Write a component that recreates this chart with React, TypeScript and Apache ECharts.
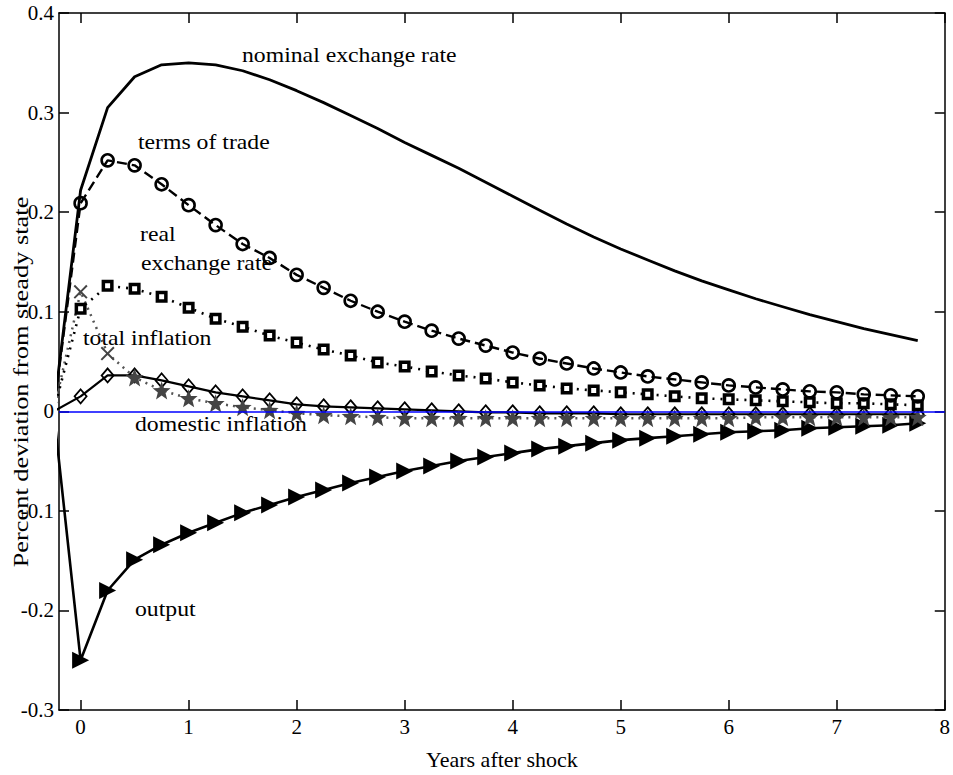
import React, { useEffect, useRef } from 'react';
import * as echarts from 'echarts';

const years = [-0.25, 0, 0.25, 0.5, 0.75, 1, 1.25, 1.5, 1.75, 2, 2.25, 2.5, 2.75, 3, 3.25, 3.5, 3.75, 4, 4.25, 4.5, 4.75, 5, 5.25, 5.5, 5.75, 6, 6.25, 6.5, 6.75, 7, 7.25, 7.5, 7.75];

const nominalExchangeRate = [0, 0.222, 0.305, 0.336, 0.348, 0.350, 0.348, 0.342, 0.333, 0.322, 0.310, 0.297, 0.284, 0.270, 0.257, 0.244, 0.230, 0.216, 0.202, 0.188, 0.175, 0.163, 0.152, 0.141, 0.131, 0.122, 0.113, 0.105, 0.097, 0.090, 0.083, 0.077, 0.071];
const termsOfTrade = [0, 0.209, 0.252, 0.247, 0.228, 0.207, 0.187, 0.168, 0.154, 0.137, 0.124, 0.111, 0.100, 0.090, 0.081, 0.073, 0.066, 0.059, 0.053, 0.048, 0.043, 0.039, 0.035, 0.032, 0.029, 0.026, 0.024, 0.022, 0.020, 0.019, 0.017, 0.016, 0.015];
const realExchangeRate = [0, 0.103, 0.126, 0.123, 0.115, 0.104, 0.093, 0.085, 0.076, 0.069, 0.062, 0.056, 0.049, 0.045, 0.040, 0.036, 0.033, 0.029, 0.026, 0.023, 0.021, 0.019, 0.017, 0.015, 0.013, 0.012, 0.011, 0.010, 0.009, 0.008, 0.008, 0.007, 0.006];
const totalInflation = [0, 0.120, 0.058, 0.034, 0.021, 0.013, 0.008, 0.004, 0.001, -0.002, -0.004, -0.005, -0.006, -0.007, -0.007, -0.007, -0.007, -0.007, -0.007, -0.007, -0.007, -0.007, -0.007, -0.007, -0.007, -0.007, -0.006, -0.006, -0.006, -0.006, -0.006, -0.006, -0.006];
const domesticInflation = [0, 0.015, 0.036, 0.036, 0.031, 0.025, 0.019, 0.015, 0.011, 0.007, 0.005, 0.004, 0.003, 0.002, 0.001, 0.000, -0.001, -0.001, -0.002, -0.002, -0.002, -0.003, -0.003, -0.003, -0.003, -0.003, -0.003, -0.003, -0.003, -0.003, -0.003, -0.003, -0.003];
const output = [0, -0.250, -0.180, -0.149, -0.134, -0.122, -0.112, -0.102, -0.094, -0.086, -0.079, -0.072, -0.066, -0.060, -0.055, -0.050, -0.046, -0.042, -0.038, -0.035, -0.032, -0.029, -0.027, -0.025, -0.023, -0.021, -0.020, -0.019, -0.017, -0.016, -0.015, -0.014, -0.012];

const xTicks = [0, 1, 2, 3, 4, 5, 6, 7, 8];
const yTicks = [-0.3, -0.2, -0.1, 0, 0.1, 0.2, 0.3, 0.4];

const FONT = '"Liberation Serif", "Times New Roman", serif';
const X_MARK = 'path://M0,10 L10,0 L50,40 L90,0 L100,10 L60,50 L100,90 L90,100 L50,60 L10,100 L0,90 L40,50 Z';
const STAR = 'path://M50,0 L63,35 L100,36 L71,59 L81,96 L50,75 L19,96 L29,59 L0,36 L37,35 Z';

function pts(vals: number[]) {
  return years.map((t, i) => (i === 0 ? { value: [t, vals[i]], symbol: 'none' } : { value: [t, vals[i]] }));
}

export default function App() {
  const ref = useRef<HTMLDivElement>(null);
  useEffect(() => {
    document.body.style.margin = '0';
    if (!ref.current) return;
    const chart = echarts.init(ref.current, null, { renderer: 'svg' });
    const axisLine = { show: true, onZero: false, lineStyle: { color: '#000', width: 1.5 } };
    const tickStyle = { color: '#000', width: 1.5 };
    const label = (s: string, x: number, y: number) => ({
      type: 'text', x, y, scaleX: 1.13, z: 100,
      style: { text: s, fontSize: 21, fontFamily: FONT, fill: '#000', align: 'left', verticalAlign: 'middle' },
    });
    const tiData = years.map((t, i) => ({
      value: [t, totalInflation[i]],
      symbol: i === 0 ? 'none' : i <= 2 ? X_MARK : STAR,
      symbolSize: i <= 2 ? 14 : 18,
    }));
    const option: any = {
      animation: false,
      backgroundColor: '#fff',
      grid: { left: 59, right: 7, top: 13, bottom: 62, containLabel: false },
      xAxis: [
        {
          type: 'value', min: -0.2, max: 8, position: 'bottom',
          axisLine,
          axisTick: { show: true, inside: true, length: 10, customValues: xTicks, lineStyle: tickStyle },
          axisLabel: { show: true, customValues: xTicks, fontFamily: FONT, fontSize: 21, color: '#000', margin: 6 },
          splitLine: { show: false },
          name: 'Years after shock', nameLocation: 'middle', nameGap: 38,
          nameTextStyle: { fontFamily: FONT, fontSize: 22, color: '#000' },
        },
        {
          type: 'value', min: -0.2, max: 8, position: 'top',
          axisLine,
          axisTick: { show: true, inside: true, length: 10, customValues: xTicks, lineStyle: tickStyle },
          axisLabel: { show: false },
          splitLine: { show: false },
        },
      ],
      yAxis: [
        {
          type: 'value', min: -0.3, max: 0.4, position: 'left',
          axisLine,
          axisTick: { show: true, inside: true, length: 10, customValues: yTicks, lineStyle: tickStyle },
          axisLabel: {
            show: true, customValues: yTicks, fontFamily: FONT, fontSize: 21, color: '#000', margin: 5,
            formatter: (v: number) => (Math.abs(v) < 1e-9 ? '0' : String(Math.round(v * 10) / 10)),
          },
          splitLine: { show: false },
        },
        {
          type: 'value', min: -0.3, max: 0.4, position: 'right',
          axisLine,
          axisTick: { show: true, inside: true, length: 10, customValues: yTicks, lineStyle: tickStyle },
          axisLabel: { show: false },
          splitLine: { show: false },
        },
      ],
      series: [
        {
          name: 'output', type: 'line', data: pts(output), showAllSymbol: true,
          symbol: 'triangle', symbolSize: 17, symbolRotate: -90,
          lineStyle: { color: '#000', width: 2.6 },
          itemStyle: { color: '#000' },
          emphasis: { disabled: true }, z: 2,
        },
        {
          name: 'domestic inflation', type: 'line', data: pts(domesticInflation), showAllSymbol: true,
          symbol: 'diamond', symbolSize: [12, 14],
          lineStyle: { color: '#000', width: 2.2 },
          itemStyle: { color: 'rgba(255,255,255,0)', borderColor: '#000', borderWidth: 1.8 },
          emphasis: { disabled: true }, z: 3,
          markLine: {
            silent: true, symbol: 'none', label: { show: false },
            lineStyle: { color: '#0000ff', width: 1.5, type: 'solid' },
            data: [{ yAxis: 0 }],
          },
        },
        {
          name: 'total inflation', type: 'line', data: tiData, showAllSymbol: true,
          lineStyle: { color: '#555', width: 2.5, type: [2, 5] },
          itemStyle: { color: '#444' },
          emphasis: { disabled: true }, z: 4,
        },
        {
          name: 'real exchange rate', type: 'line', data: pts(realExchangeRate), showAllSymbol: true,
          symbol: 'rect', symbolSize: 8.5,
          lineStyle: { color: '#000', width: 2.6, type: [2, 6] },
          itemStyle: { color: '#fff', borderColor: '#000', borderWidth: 3.5 },
          emphasis: { disabled: true }, z: 5,
        },
        {
          name: 'terms of trade', type: 'line', data: pts(termsOfTrade), showAllSymbol: true,
          symbol: 'circle', symbolSize: 12,
          lineStyle: { color: '#000', width: 2.4, type: [10, 5] },
          itemStyle: { color: 'rgba(255,255,255,0)', borderColor: '#000', borderWidth: 2.6 },
          emphasis: { disabled: true }, z: 6,
        },
        {
          name: 'nominal exchange rate', type: 'line', data: pts(nominalExchangeRate),
          symbol: 'none',
          lineStyle: { color: '#000', width: 2.8 },
          emphasis: { disabled: true }, z: 7,
        },
      ],
      graphic: [
        label('nominal exchange rate', 242, 55),
        label('terms of trade', 138, 142),
        label('real', 140, 234),
        label('exchange rate', 141, 263),
        label('total inflation', 83, 338),
        label('domestic inflation', 135, 424),
        label('output', 135, 609),
        {
          type: 'text', x: 20, y: 382, rotation: Math.PI / 2, scaleX: 1.2, z: 100,
          style: {
            text: 'Percent deviation from steady state', fontSize: 22, fontFamily: FONT, fill: '#000',
            align: 'center', verticalAlign: 'middle',
          },
        },
      ],
    };
    chart.setOption(option);
    return () => chart.dispose();
  }, []);
  return <div ref={ref} style={{ width: 953, height: 775 }} />;
}
